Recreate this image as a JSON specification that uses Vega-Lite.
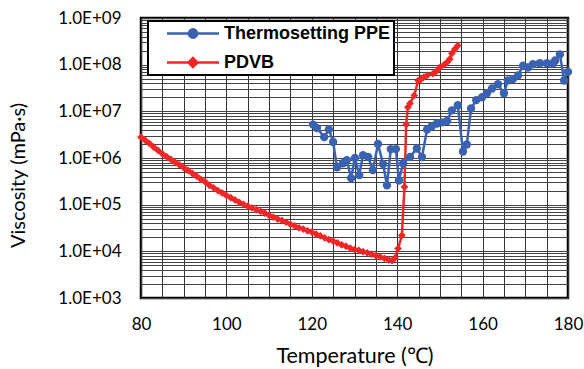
{
  "$schema": "https://vega.github.io/schema/vega-lite/v6.json",
  "width": 427,
  "height": 280,
  "autosize": "none",
  "padding": {"left": 141, "top": 18, "right": 16, "bottom": 71},
  "background": "white",
  "config": {
    "font": "Lato",
    "view": {"stroke": "black", "strokeWidth": 2.5},
    "axis": {"labelFont": "Lato", "titleFont": "Lato", "labelColor": "black", "titleColor": "black", "titleFontWeight": "normal", "domain": false}
  },
  "data": {
    "values": [
      {"s": "PDVB", "T": 80, "v": 2800000},
      {"s": "PDVB", "T": 81, "v": 2400000},
      {"s": "PDVB", "T": 82, "v": 2040000},
      {"s": "PDVB", "T": 83, "v": 1700000},
      {"s": "PDVB", "T": 84, "v": 1450000},
      {"s": "PDVB", "T": 85, "v": 1230000},
      {"s": "PDVB", "T": 86, "v": 1070000},
      {"s": "PDVB", "T": 87, "v": 930000},
      {"s": "PDVB", "T": 88, "v": 810000},
      {"s": "PDVB", "T": 89, "v": 710000},
      {"s": "PDVB", "T": 90, "v": 620000},
      {"s": "PDVB", "T": 91, "v": 540000},
      {"s": "PDVB", "T": 92, "v": 470000},
      {"s": "PDVB", "T": 93, "v": 410000},
      {"s": "PDVB", "T": 94, "v": 350000},
      {"s": "PDVB", "T": 95, "v": 310000},
      {"s": "PDVB", "T": 96, "v": 260000},
      {"s": "PDVB", "T": 97, "v": 230000},
      {"s": "PDVB", "T": 98, "v": 200000},
      {"s": "PDVB", "T": 99, "v": 178000},
      {"s": "PDVB", "T": 100, "v": 158000},
      {"s": "PDVB", "T": 101, "v": 141000},
      {"s": "PDVB", "T": 102, "v": 126000},
      {"s": "PDVB", "T": 103, "v": 112000},
      {"s": "PDVB", "T": 104, "v": 102000},
      {"s": "PDVB", "T": 105, "v": 93000},
      {"s": "PDVB", "T": 106, "v": 85000},
      {"s": "PDVB", "T": 107, "v": 78000},
      {"s": "PDVB", "T": 108, "v": 72000},
      {"s": "PDVB", "T": 109, "v": 66000},
      {"s": "PDVB", "T": 110, "v": 59000},
      {"s": "PDVB", "T": 111, "v": 54000},
      {"s": "PDVB", "T": 112, "v": 49000},
      {"s": "PDVB", "T": 113, "v": 46000},
      {"s": "PDVB", "T": 114, "v": 42000},
      {"s": "PDVB", "T": 115, "v": 38000},
      {"s": "PDVB", "T": 116, "v": 35000},
      {"s": "PDVB", "T": 117, "v": 32000},
      {"s": "PDVB", "T": 118, "v": 30000},
      {"s": "PDVB", "T": 119, "v": 27500},
      {"s": "PDVB", "T": 120, "v": 25700},
      {"s": "PDVB", "T": 121, "v": 23400},
      {"s": "PDVB", "T": 122, "v": 21400},
      {"s": "PDVB", "T": 123, "v": 19500},
      {"s": "PDVB", "T": 124, "v": 17800},
      {"s": "PDVB", "T": 125, "v": 16600},
      {"s": "PDVB", "T": 126, "v": 15100},
      {"s": "PDVB", "T": 127, "v": 13800},
      {"s": "PDVB", "T": 128, "v": 12900},
      {"s": "PDVB", "T": 129, "v": 11700},
      {"s": "PDVB", "T": 130, "v": 11000},
      {"s": "PDVB", "T": 131, "v": 10500},
      {"s": "PDVB", "T": 132, "v": 9800},
      {"s": "PDVB", "T": 133, "v": 9300},
      {"s": "PDVB", "T": 134, "v": 8700},
      {"s": "PDVB", "T": 135, "v": 8100},
      {"s": "PDVB", "T": 136, "v": 7600},
      {"s": "PDVB", "T": 137, "v": 7100},
      {"s": "PDVB", "T": 138, "v": 6600},
      {"s": "PDVB", "T": 138.8, "v": 6300},
      {"s": "PDVB", "T": 139.5, "v": 7200},
      {"s": "PDVB", "T": 140.2, "v": 11500},
      {"s": "PDVB", "T": 141.1, "v": 22000},
      {"s": "PDVB", "T": 141.7, "v": 240000},
      {"s": "PDVB", "T": 142.1, "v": 5200000},
      {"s": "PDVB", "T": 142.5, "v": 12300000},
      {"s": "PDVB", "T": 143, "v": 14800000},
      {"s": "PDVB", "T": 144, "v": 21900000},
      {"s": "PDVB", "T": 144.9, "v": 45700000},
      {"s": "PDVB", "T": 145.5, "v": 47900000},
      {"s": "PDVB", "T": 146.2, "v": 53700000},
      {"s": "PDVB", "T": 147, "v": 58900000},
      {"s": "PDVB", "T": 148.4, "v": 64600000},
      {"s": "PDVB", "T": 149.2, "v": 72400000},
      {"s": "PDVB", "T": 150, "v": 87100000},
      {"s": "PDVB", "T": 151, "v": 100000000},
      {"s": "PDVB", "T": 151.7, "v": 112000000},
      {"s": "PDVB", "T": 152.3, "v": 132000000},
      {"s": "PDVB", "T": 152.8, "v": 174000000},
      {"s": "PDVB", "T": 153.5, "v": 214000000},
      {"s": "PDVB", "T": 154.2, "v": 257000000},
      {"s": "Thermosetting PPE", "T": 120.3, "v": 5200000},
      {"s": "Thermosetting PPE", "T": 121.2, "v": 4400000},
      {"s": "Thermosetting PPE", "T": 122.9, "v": 2800000},
      {"s": "Thermosetting PPE", "T": 124.0, "v": 4100000},
      {"s": "Thermosetting PPE", "T": 125.0, "v": 2200000},
      {"s": "Thermosetting PPE", "T": 125.9, "v": 630000},
      {"s": "Thermosetting PPE", "T": 127.3, "v": 770000},
      {"s": "Thermosetting PPE", "T": 128.2, "v": 900000},
      {"s": "Thermosetting PPE", "T": 129.2, "v": 370000},
      {"s": "Thermosetting PPE", "T": 130.1, "v": 1000000},
      {"s": "Thermosetting PPE", "T": 131.1, "v": 430000},
      {"s": "Thermosetting PPE", "T": 132.0, "v": 1150000},
      {"s": "Thermosetting PPE", "T": 133.2, "v": 1050000},
      {"s": "Thermosetting PPE", "T": 134.3, "v": 550000},
      {"s": "Thermosetting PPE", "T": 135.5, "v": 2000000},
      {"s": "Thermosetting PPE", "T": 136.7, "v": 740000},
      {"s": "Thermosetting PPE", "T": 137.6, "v": 260000},
      {"s": "Thermosetting PPE", "T": 138.5, "v": 1550000},
      {"s": "Thermosetting PPE", "T": 139.7, "v": 1550000},
      {"s": "Thermosetting PPE", "T": 140.4, "v": 330000},
      {"s": "Thermosetting PPE", "T": 141.4, "v": 770000},
      {"s": "Thermosetting PPE", "T": 143.0, "v": 1050000},
      {"s": "Thermosetting PPE", "T": 144.6, "v": 1600000},
      {"s": "Thermosetting PPE", "T": 145.8, "v": 1050000},
      {"s": "Thermosetting PPE", "T": 147.0, "v": 4100000},
      {"s": "Thermosetting PPE", "T": 148.1, "v": 4800000},
      {"s": "Thermosetting PPE", "T": 149.3, "v": 5500000},
      {"s": "Thermosetting PPE", "T": 150.5, "v": 5800000},
      {"s": "Thermosetting PPE", "T": 151.7, "v": 6200000},
      {"s": "Thermosetting PPE", "T": 152.8, "v": 10500000},
      {"s": "Thermosetting PPE", "T": 154.2, "v": 13500000},
      {"s": "Thermosetting PPE", "T": 155.4, "v": 1380000},
      {"s": "Thermosetting PPE", "T": 156.3, "v": 1950000},
      {"s": "Thermosetting PPE", "T": 157.3, "v": 11500000},
      {"s": "Thermosetting PPE", "T": 158.5, "v": 17400000},
      {"s": "Thermosetting PPE", "T": 159.9, "v": 20000000},
      {"s": "Thermosetting PPE", "T": 161.0, "v": 24500000},
      {"s": "Thermosetting PPE", "T": 162.2, "v": 30900000},
      {"s": "Thermosetting PPE", "T": 163.6, "v": 38000000},
      {"s": "Thermosetting PPE", "T": 165.0, "v": 24500000},
      {"s": "Thermosetting PPE", "T": 165.9, "v": 45700000},
      {"s": "Thermosetting PPE", "T": 167.1, "v": 49000000},
      {"s": "Thermosetting PPE", "T": 168.3, "v": 58900000},
      {"s": "Thermosetting PPE", "T": 169.5, "v": 95500000},
      {"s": "Thermosetting PPE", "T": 170.6, "v": 87100000},
      {"s": "Thermosetting PPE", "T": 171.8, "v": 102000000},
      {"s": "Thermosetting PPE", "T": 173.4, "v": 107000000},
      {"s": "Thermosetting PPE", "T": 175.1, "v": 107000000},
      {"s": "Thermosetting PPE", "T": 176.5, "v": 107000000},
      {"s": "Thermosetting PPE", "T": 177.0, "v": 123000000},
      {"s": "Thermosetting PPE", "T": 178.1, "v": 166000000},
      {"s": "Thermosetting PPE", "T": 179.1, "v": 45700000},
      {"s": "Thermosetting PPE", "T": 180.0, "v": 70000000}
    ]
  },
  "encoding": {
    "x": {
      "field": "T", "type": "quantitative",
      "scale": {"domain": [80, 180], "nice": false, "zero": false},
      "axis": {
        "title": "Temperature (℃)",
        "values": [80,85,90,95,100,105,110,115,120,125,130,135,140,145,150,155,160,165,170,175,180],
        "labelExpr": "datum.value % 20 == 0 ? datum.value : ''",
        "labelFontSize": 17,
        "labelPadding": 18,
        "labelFlush": false,
        "labelOverlap": false,
        "ticks": false,
        "grid": true, "gridColor": "#333", "gridWidth": 1, "gridOpacity": 1,
        "titleFontSize": 21.5,
        "titleY": 64, "titleBaseline": "alphabetic"
      }
    },
    "y": {
      "field": "v", "type": "quantitative",
      "scale": {"type": "log", "domain": [1000, 1000000000], "nice": false},
      "axis": {
        "title": "Viscosity (mPa·s)",
        "values": [1000,2000,3000,4000,5000,6000,7000,8000,9000,10000,20000,30000,40000,50000,60000,70000,80000,90000,100000,200000,300000,400000,500000,600000,700000,800000,900000,1000000,2000000,3000000,4000000,5000000,6000000,7000000,8000000,9000000,10000000,20000000,30000000,40000000,50000000,60000000,70000000,80000000,90000000,100000000,200000000,300000000,400000000,500000000,600000000,700000000,800000000,900000000,1000000000],
        "labelExpr": "abs(log(datum.value)/LN10 - round(log(datum.value)/LN10)) < 0.000001 ? '1.0E+0' + round(log(datum.value)/LN10) : ''",
        "labelFontSize": 17,
        "labelPadding": 20,
        "labelFlush": false,
        "labelOverlap": false,
        "ticks": false,
        "grid": true, "gridColor": "#444", "gridWidth": 1, "gridOpacity": 1,
        "titleFontSize": 20,
        "titleX": -123, "titleY": 157, "titleBaseline": "middle", "titleAlign": "center", "titleAngle": -90
      }
    }
  },
  "layer": [
    {
      "mark": {"type": "line", "strokeWidth": 2.5},
      "encoding": {
        "color": {
          "field": "s", "type": "nominal",
          "scale": {"domain": ["Thermosetting PPE", "PDVB"], "range": ["#3A62B0", "#F22626"]},
          "legend": {
            "title": null,
            "orient": "none",
            "legendX": 7,
            "legendY": 3,
            "padding": 3,
            "symbolOffset": 32.5,
            "symbolSize": 256,
            "symbolStrokeWidth": 2.5,
            "labelFont": "Liberation Sans",
            "labelFontSize": 18,
            "labelFontWeight": "bold",
            "labelColor": "black",
            "labelOffset": 21.5,
            "labelLimit": 400,
            "rowPadding": 10,
            "fillColor": "white",
            "strokeColor": "black",
            "encode": {
              "legend": {"update": {"strokeWidth": {"value": 2}}},
              "symbols": {
                "update": {
                  "shape": {"signal": "datum.value === 'PDVB' ? 'M-3.25,0L3.25,0M0,-0.56L0.56,0L0,0.56L-0.56,0Z' : 'M-3.25,0L3.25,0M0.52,0A0.52,0.52,0,1,1,-0.52,0A0.52,0.52,0,1,1,0.52,0Z'"},
                  "fill": {"signal": "datum.value === 'PDVB' ? '#F22626' : '#3A62B0'"},
                  "fillOpacity": {"value": 1},
                  "stroke": {"signal": "datum.value === 'PDVB' ? '#F22626' : '#3A62B0'"},
                  "strokeOpacity": {"value": 1},
                  "strokeWidth": {"value": 2.5},
                  "opacity": {"value": 1}
                }
              }
            }
          }
        }
      }
    },
    {
      "transform": [{"filter": "datum.s === 'Thermosetting PPE'"}],
      "mark": {"type": "point", "filled": true, "opacity": 1, "shape": "circle", "size": 70, "color": "#3A62B0"}
    },
    {
      "transform": [{"filter": "datum.s === 'PDVB'"}],
      "mark": {"type": "point", "filled": true, "opacity": 1, "shape": "diamond", "size": 60, "color": "#F22626"}
    }
  ]
}
